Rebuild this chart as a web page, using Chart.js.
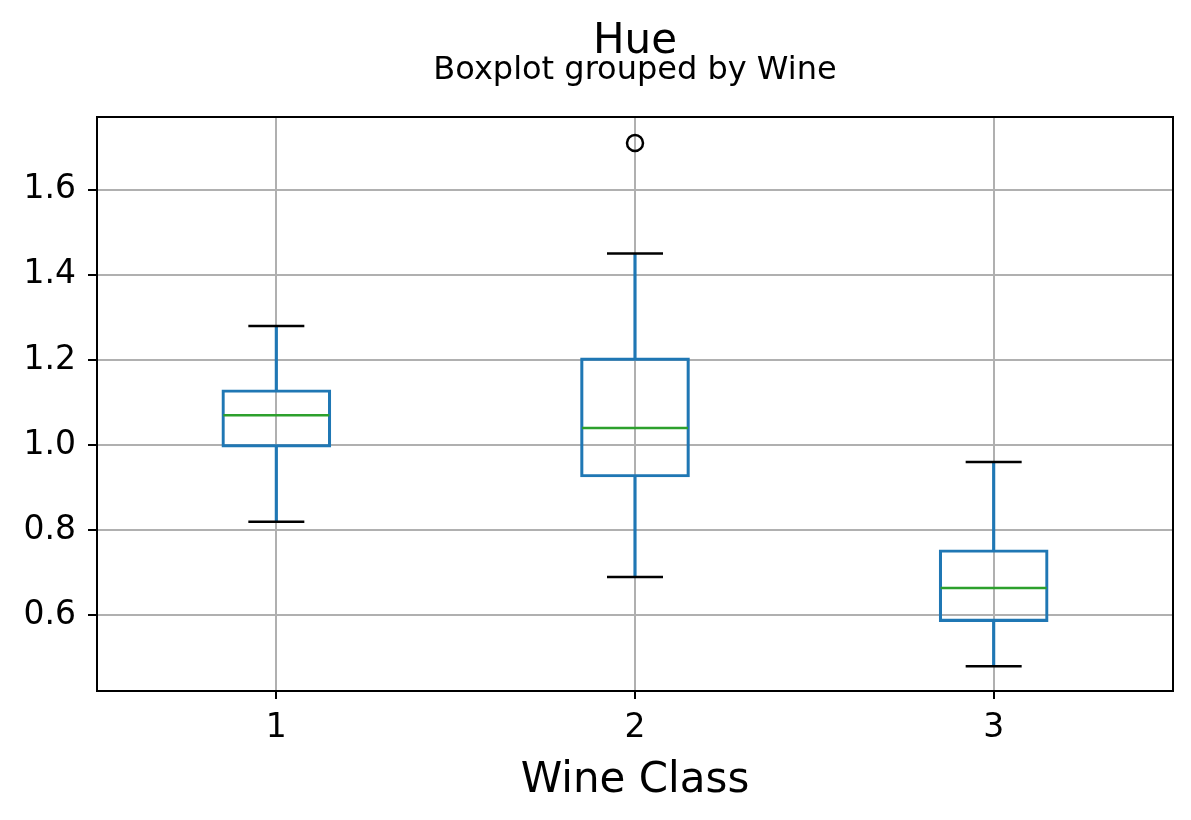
<!DOCTYPE html>
<html>
<head>
<meta charset="utf-8">
<script src="https://cdn.jsdelivr.net/npm/chart.js@4/dist/chart.umd.min.js"></script>
<style>
  html, body { margin: 0; padding: 0; background: #fff; }
  #wrap { width: 1191px; height: 820px; }
</style>
</head>
<body>
<div id="wrap"><canvas id="hue_boxplot"></canvas></div>
<script>
// wine classes and box stats for Hue
var classes = ['1', '2', '3'];
var whiskerLow = [0.82, 0.69, 0.48];
var q1 = [0.995, 0.925, 0.585];
var medians = [1.07, 1.04, 0.664];
var q3 = [1.13, 1.205, 0.754];
var whiskerHigh = [1.28, 1.45, 0.96];
var outliers = [null, 1.71, null];

var blue = '#1f77b4';
var green = '#2ca02c';

var boxes = classes.map(function (c, i) { return [q1[i], q3[i]]; });
var upperWhisker = classes.map(function (c, i) { return [q3[i], whiskerHigh[i]]; });
var lowerWhisker = classes.map(function (c, i) { return [whiskerLow[i], q1[i]]; });

// frame around the plot area (top + right spines)
var frame = {
    id: 'frame',
    afterDraw: function (chart) {
        var a = chart.chartArea;
        var ctx = chart.ctx;
        ctx.save();
        ctx.strokeStyle = '#000';
        ctx.lineWidth = 2;
        ctx.strokeRect(a.left, a.top, a.right - a.left, a.bottom - a.top);
        ctx.restore();
    }
};

var ctx = document.getElementById('hue_boxplot');
var chart = new Chart(ctx, {
    type: 'bar',
    data: {
        labels: classes,
        datasets: [
            {
                type: 'line', label: 'outliers', data: outliers,
                showLine: false, pointStyle: 'circle', pointRadius: 8,
                borderColor: '#000', backgroundColor: 'rgba(0,0,0,0)', pointBorderWidth: 2.5
            },
            {
                type: 'line', label: 'median', data: medians,
                showLine: false, pointStyle: 'line', pointRadius: 53,
                borderColor: green, pointBorderWidth: 2.5
            },
            {
                type: 'line', label: 'capHigh', data: whiskerHigh,
                showLine: false, pointStyle: 'line', pointRadius: 28,
                borderColor: '#000', pointBorderWidth: 2.5
            },
            {
                type: 'line', label: 'capLow', data: whiskerLow,
                showLine: false, pointStyle: 'line', pointRadius: 28,
                borderColor: '#000', pointBorderWidth: 2.5
            },
            {
                label: 'box', data: boxes, grouped: false, barThickness: 109,
                backgroundColor: 'rgba(0,0,0,0)', borderColor: blue,
                borderWidth: 2.5, borderSkipped: false
            },
            {
                label: 'whiskerHigh', data: upperWhisker, grouped: false, barThickness: 2.5,
                backgroundColor: blue, borderWidth: 0
            },
            {
                label: 'whiskerLow', data: lowerWhisker, grouped: false, barThickness: 2.5,
                backgroundColor: blue, borderWidth: 0
            }
        ]
    },
    options: {
        responsive: true,
        maintainAspectRatio: false,
        animation: false,
        events: [],
        layout: { autoPadding: false, padding: { left: 0, right: 18, top: 0, bottom: 0 } },
        plugins: {
            legend: { display: false },
            tooltip: { enabled: false },
            title: {
                display: true, text: 'Hue', color: '#000', fullSize: false,
                font: { family: 'DejaVu Sans', size: 42, weight: 'normal', lineHeight: 1 },
                padding: { top: 21, bottom: -8 }
            },
            subtitle: {
                display: true, text: 'Boxplot grouped by Wine', color: '#000', fullSize: false,
                font: { family: 'DejaVu Sans', size: 32, weight: 'normal', lineHeight: 1 },
                padding: { top: 0, bottom: 30 }
            }
        },
        scales: {
            x: {
                offset: true,
                afterFit: function (scale) { scale.height = 129; },
                grid: { display: true, offset: false, color: '#b0b0b0', lineWidth: 2, tickLength: 8, tickColor: '#000', tickWidth: 2 },
                border: { display: true, color: '#000', width: 2 },
                ticks: { color: '#000', padding: 10, font: { family: 'DejaVu Sans', size: 33 } },
                title: {
                    display: true, text: 'Wine Class', color: '#000',
                    font: { family: 'DejaVu Sans', size: 42 },
                    padding: { top: 0, bottom: 14 }
                }
            },
            y: {
                min: 0.422,
                max: 1.771,
                afterFit: function (scale) { scale.width = 97; },
                grid: { color: '#b0b0b0', lineWidth: 2, tickLength: 9, tickColor: '#000', tickWidth: 2 },
                border: { display: true, color: '#000', width: 2 },
                ticks: {
                    stepSize: 0.2, includeBounds: false, color: '#000', padding: 12,
                    font: { family: 'DejaVu Sans', size: 33 },
                    callback: function (v) { return v.toFixed(1); }
                }
            }
        }
    },
    plugins: [frame]
});
</script>
</body>
</html>
